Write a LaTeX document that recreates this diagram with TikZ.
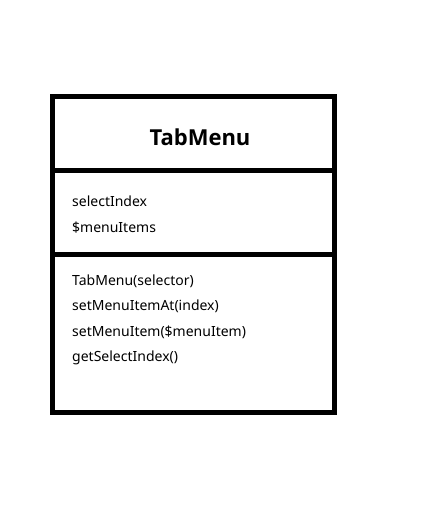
\documentclass[tikz,border=0pt]{standalone}
\usepackage{fontspec}
\setmainfont{Noto Sans}
\newfontfamily\titlefont{Open Sans}
\usetikzlibrary{positioning}

\begin{document}
\begin{tikzpicture}[x=1pt,y=-1pt,
    member/.style={anchor=base west,inner sep=0,font=\fontsize{14}{16}\selectfont}]
    \useasboundingbox (0,0) rectangle (441,527);

    % Class box
    \draw[line width=5pt] (52.5,96.5) rectangle (334.5,412.5);
    \draw[line width=5pt] (52.5,170.5) -- (334.5,170.5);
    \draw[line width=5pt] (52.5,254.5) -- (334.5,254.5);

    % Class name
    \node[anchor=base,inner sep=0,font=\titlefont\bfseries\fontsize{22}{26}\selectfont] (name) at (200,145) {TabMenu};

    % Attributes
    \node[member] (attrA) at (72,206.5) {selectIndex};
    \node[member] (attrB) at (72,232) {\$menuItems};

    % Operations
    \node[member] (opA) at (72,285) {TabMenu(selector)};
    \node[member] (opB) at (72,310.5) {setMenuItemAt(index)};
    \node[member] (opC) at (72,336) {setMenuItem(\$menuItem)};
    \node[member] (opD) at (72,361.5) {getSelectIndex()};
\end{tikzpicture}
\end{document}
